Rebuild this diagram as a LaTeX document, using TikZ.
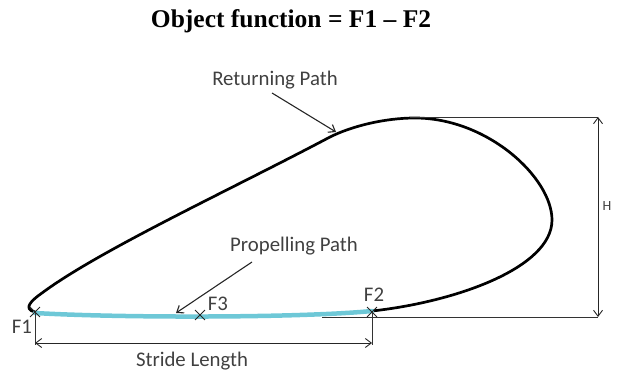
\documentclass[tikz,border=0pt]{standalone}
\usepackage{fontspec}
\setmainfont{Liberation Serif}
\newfontfamily\calfont{Carlito}
\usetikzlibrary{arrows.meta,shapes.misc}
\definecolor{pathblue}{RGB}{110,200,215}
\definecolor{lblgray}{RGB}{64,64,64}
\begin{document}
\begin{tikzpicture}[x=1pt,y=-1pt,
  lbl/.style={font=\calfont\fontsize{20.8}{22}\selectfont, text=lblgray, inner sep=0pt},
  crossmark/.style={cross out, draw=black!85, line width=0.9pt, minimum size=9pt, inner sep=0pt},
  dimline/.style={draw=black!80, line width=0.8pt},
  dimarrow/.style={draw=black!85, line width=0.9pt, {Straight Barb[length=6pt,width=9pt]}-{Straight Barb[length=6pt,width=9pt]}},
  pointer/.style={draw=black!85, line width=1.1pt, -{Straight Barb[length=6pt,width=9pt]}},
  loop/.style={draw=black, line width=2.7pt, line join=round, line cap=round},
  prop/.style={draw=pathblue, line width=4.5pt, line cap=round}]
\useasboundingbox (0,0) rectangle (624,374);

% title
\node[font=\bfseries\fontsize{25.5}{28}\selectfont] (title) at (291,21) {Object function = F1 -- F2};

% returning path (closed loop shape from F2 around to F1)
\coordinate (loopR) at (552,220);
\coordinate (loopT) at (415,118);
\coordinate (loopA) at (330,137);
\coordinate (loopB) at (42,293);
\draw[loop] (372,311) .. controls (455,302) and (552,268) .. (loopR)
  .. controls (552,178) and (488,118) .. (loopT)
  .. controls (385,118) and (352,126) .. (loopA)
  .. controls (230,190) and (100,250) .. (loopB)
  .. controls (32,300) and (22,309) .. (35,312);

% propelling path
\draw[prop] (35,313) .. controls (120,318) and (300,318) .. (372,311);

% crosses
\node[crossmark] (F1x) at (35,312) {};
\node[crossmark] (F2x) at (372,312) {};
\node[crossmark] (F3x) at (200,315) {};

% labels of points
\node[lbl] (F1) at (22,327) {F1};
\node[lbl] (F2) at (374,295) {F2};
\node[lbl] (F3) at (218,304) {F3};

% height dimension
\coordinate (topL) at (410,117);
\coordinate (topR) at (598,117);
\coordinate (botL) at (322,317);
\coordinate (botR) at (598,317);
\draw[dimline] (topL) -- (topR);
\draw[dimline] (botL) -- (botR);
\draw[dimarrow] (topR) -- (botR);
\node[lbl, font=\calfont\fontsize{14}{16}\selectfont] (H) at (607,206) {H};

% stride length dimension
\coordinate (s1) at (35,345);
\coordinate (s2) at (372,345);
\coordinate (a1) at (35,343);
\coordinate (a2) at (372,343);
\draw[dimline] (F1x.center) -- (s1);
\draw[dimline] (F2x.center) -- (s2);
\draw[dimarrow] (a1) -- (a2);
\node[lbl] (stride) at (192,361) {Stride Length};

% pointer labels
\node[lbl] (ret) at (275,80) {Returning Path};
\coordinate (retS) at (272,93);
\coordinate (retT) at (336,132);
\draw[pointer] (retS) -- (retT);

\node[lbl] (propl) at (294,246) {Propelling Path};
\coordinate (propS) at (252,262);
\coordinate (propT) at (176,313);
\draw[pointer] (propS) -- (propT);
\end{tikzpicture}
\end{document}
